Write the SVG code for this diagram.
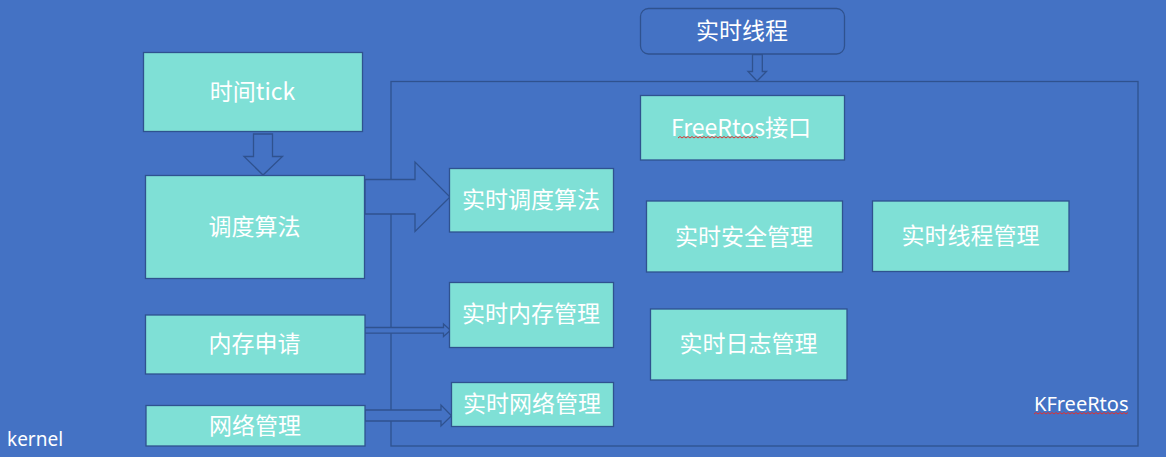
<svg xmlns="http://www.w3.org/2000/svg" width="1166" height="457" viewBox="0 0 1166 457">
<style>
.bg{fill:#4472C4}
.n{fill:#7FE0D6;stroke:#2F528F;stroke-width:1.3}
.a{fill:#4472C4;stroke:#2F528F;stroke-width:1.3;stroke-linejoin:miter}
.c{fill:none;stroke:#2F528F;stroke-width:1.3}
.t{font-family:"Noto Sans CJK SC","Noto Sans",sans-serif;font-size:23px;fill:#FFFFFF;text-anchor:middle;dominant-baseline:central}
.l{font-family:"Noto Sans","Open Sans",sans-serif;font-size:19px;fill:#FFFFFF}
.sq{fill:none;stroke:#E03030;stroke-width:1}
</style>
<rect class="bg" x="0" y="0" width="1166" height="457"/>
<g id="container-kfreertos">
<rect class="c" x="391" y="81.5" width="747" height="364.5"/>
<text class="l" x="1034" y="411" style="font-size:20px">KFreeRtos</text>
<path class="sq" d="M1034 414 l2 -1.5 l2 1.5 l2 -1.5 l2 1.5 l2 -1.5 l2 1.5 l2 -1.5 l2 1.5 l2 -1.5 l2 1.5 l2 -1.5 l2 1.5 l2 -1.5 l2 1.5 l2 -1.5 l2 1.5 l2 -1.5 l2 1.5 l2 -1.5 l2 1.5 l2 -1.5 l2 1.5 l2 -1.5 l2 1.5 l2 -1.5 l2 1.5 l2 -1.5 l2 1.5 l2 -1.5 l2 1.5 l2 -1.5 l2 1.5 l2 -1.5 l2 1.5 l2 -1.5 l2 1.5 l2 -1.5 l2 1.5 l2 -1.5 l2 1.5 l2 -1.5 l2 1.5 l2 -1.5 l2 1.5 l2 -1.5 l2 1.5 l2 -1.5"/>
</g>
<text class="l" x="7" y="446">kernel</text>
<g id="connectors">
<path class="a" d="M253.5 134 H272.5 V156.5 H282.5 L263 175 L244 156.5 H253.5 Z"/>
<path class="a" d="M365 179.5 H415 V162 L450 197 L415 231.5 V214 H365 Z"/>
<path class="a" d="M364.5 327.5 H443.5 V324 L450.5 330.3 L443.5 336.5 V333.2 H364.5 Z"/>
<path class="a" d="M365 410 H441 V405 L451.5 415.7 L441 426 V421 H365 Z"/>
<path class="a" d="M752.5 54.5 H762.3 V71.5 H766.5 L757 81 L748 71.5 H752.5 Z"/>
</g>
<g id="node-time-tick">
<rect class="n" x="143.5" y="52.5" width="219" height="79"/>
<text class="t" x="252.5" y="89.5">时间tick</text>
</g>
<g id="node-scheduler">
<rect class="n" x="145.5" y="175.5" width="219" height="103"/>
<text class="t" x="254.5" y="224.5">调度算法</text>
</g>
<g id="node-memory-request">
<rect class="n" x="145.5" y="315" width="219.5" height="59"/>
<text class="t" x="254.5" y="341.5">内存申请</text>
</g>
<g id="node-network">
<rect class="n" x="146" y="405.5" width="219" height="40.5"/>
<text class="t" x="255" y="423.5">网络管理</text>
</g>
<g id="node-rt-thread">
<rect class="n" style="fill:#4472C4" x="640.5" y="8.5" width="204" height="45.5" rx="8"/>
<text class="t" x="742" y="29">实时线程</text>
</g>
<g id="node-freertos-if">
<rect class="n" x="640.5" y="95.5" width="204" height="64.5"/>
<text class="t" x="741" y="125.5">FreeRtos接口</text>
<path class="sq" d="M678 138 l2 -1.5 l2 1.5 l2 -1.5 l2 1.5 l2 -1.5 l2 1.5 l2 -1.5 l2 1.5 l2 -1.5 l2 1.5 l2 -1.5 l2 1.5 l2 -1.5 l2 1.5 l2 -1.5 l2 1.5 l2 -1.5 l2 1.5 l2 -1.5 l2 1.5 l2 -1.5 l2 1.5 l2 -1.5 l2 1.5 l2 -1.5 l2 1.5 l2 -1.5 l2 1.5 l2 -1.5 l2 1.5 l2 -1.5 l2 1.5 l2 -1.5 l2 1.5 l2 -1.5 l2 1.5 l2 -1.5 l2 1.5 l2 -1.5 l2 1.5"/>
</g>
<g id="node-rt-sched">
<rect class="n" x="449.5" y="168.5" width="164" height="63.5"/>
<text class="t" x="531" y="198">实时调度算法</text>
</g>
<g id="node-rt-mem">
<rect class="n" x="449.5" y="282.5" width="164" height="65"/>
<text class="t" x="531" y="311.5">实时内存管理</text>
</g>
<g id="node-rt-net">
<rect class="n" x="451.5" y="382.5" width="162" height="44"/>
<text class="t" x="532" y="402">实时网络管理</text>
</g>
<g id="node-rt-security">
<rect class="n" x="646.5" y="201" width="196" height="71"/>
<text class="t" x="744" y="234.5">实时安全管理</text>
</g>
<g id="node-rt-thread-mgmt">
<rect class="n" x="872.5" y="201" width="196.5" height="70.5"/>
<text class="t" x="970.5" y="233.5">实时线程管理</text>
</g>
<g id="node-rt-log">
<rect class="n" x="650.5" y="309" width="196.5" height="71"/>
<text class="t" x="748.5" y="342">实时日志管理</text>
</g>
</svg>
